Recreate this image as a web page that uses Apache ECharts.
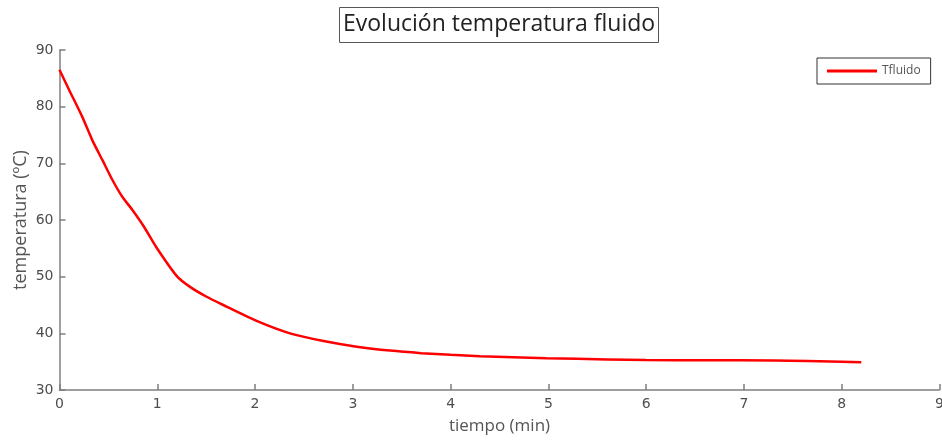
<!DOCTYPE html>
<html>
<head>
<meta charset="utf-8">
<script src="https://cdn.jsdelivr.net/npm/echarts@6/dist/echarts.min.js"></script>
<style>
html,body{margin:0;padding:0;background:#fff;}
#chart{width:942px;height:441px;}
</style>
</head>
<body>
<div id="chart"></div>
<script>
const titleText = 'Evolución temperatura fluido';
const seriesName = 'Tfluido';
const xName = 'tiempo (min)';
const yName = 'temperatura (ºC)';
const tiempo = [0, 0.1, 0.233, 0.335, 0.438, 0.54, 0.642, 0.744, 0.864, 0.99, 1.2, 1.335, 1.5, 1.675, 2.016, 2.357, 2.7, 3.04, 3.38, 3.7, 4.0, 4.3, 4.98, 5.6, 6.0, 6.6, 7.3, 8.0, 8.2];
const temperatura = [86.5, 82.9, 78.2, 74.1, 70.6, 67.1, 64.1, 61.8, 58.8, 55.2, 50.1, 48.2, 46.5, 45.0, 42.2, 40.0, 38.65, 37.65, 36.95, 36.5, 36.2, 35.95, 35.6, 35.4, 35.3, 35.25, 35.2, 35.0, 34.9];
const xTicks = [0, 9, 1];
const yTicks = [30, 90, 10];

const chart = echarts.init(document.getElementById('chart'));
const axisColor = '#7f7f7f';
const labelColor = '#4d4d4d';
chart.setOption({
  animation: false,
  title: {
    text: titleText,
    left: 339,
    top: 7,
    padding: [6, 4, 7, 4],
    borderWidth: 1,
    borderColor: '#555',
    textStyle: {fontFamily: 'Open Sans', fontSize: 23, fontWeight: 'normal', color: '#222'}
  },
  legend: {
    data: [seriesName],
    left: 817,
    top: 58,
    orient: 'vertical',
    padding: [7, 10, 7, 10],
    borderWidth: 1,
    borderColor: '#333',
    icon: 'rect',
    itemWidth: 50,
    itemHeight: 3,
    itemGap: 4,
    textStyle: {fontFamily: 'Open Sans', fontSize: 12, color: '#555'}
  },
  grid: {left: 59.5, right: 2.5, top: 50, bottom: 51, containLabel: false, outerBoundsMode: 'none'},
  xAxis: {
    type: 'value',
    min: xTicks[0], max: xTicks[1], interval: xTicks[2],
    name: xName,
    nameLocation: 'middle',
    nameGap: 28,
    nameMoveOverlap: false,
    nameTextStyle: {fontFamily: 'Open Sans', fontSize: 17, color: '#555'},
    axisLine: {show: true, lineStyle: {color: axisColor, width: 1.5}},
    axisTick: {show: true, inside: true, length: 6, lineStyle: {color: axisColor, width: 1.5}},
    axisLabel: {fontFamily: 'DejaVu Sans', fontSize: 14, color: labelColor, margin: 7},
    splitLine: {show: false}
  },
  yAxis: {
    type: 'value',
    min: yTicks[0], max: yTicks[1], interval: yTicks[2],
    name: yName,
    nameLocation: 'middle',
    nameGap: 30,
    nameMoveOverlap: false,
    nameTextStyle: {fontFamily: 'Open Sans', fontSize: 18, color: '#555'},
    axisLine: {show: true, lineStyle: {color: axisColor, width: 1.5}},
    axisTick: {show: true, inside: true, length: 6, lineStyle: {color: axisColor, width: 1.5}},
    axisLabel: {fontFamily: 'DejaVu Sans', fontSize: 14, color: labelColor, margin: 6},
    splitLine: {show: false}
  },
  series: [{
    name: seriesName,
    type: 'line',
    data: tiempo.map((t, i) => [t, temperatura[i]]),
    smooth: 0.2,
    showSymbol: false,
    symbol: 'none',
    itemStyle: {color: '#ff0000'},
    lineStyle: {color: '#ff0000', width: 2.5}
  }]
});
</script>
</body>
</html>
